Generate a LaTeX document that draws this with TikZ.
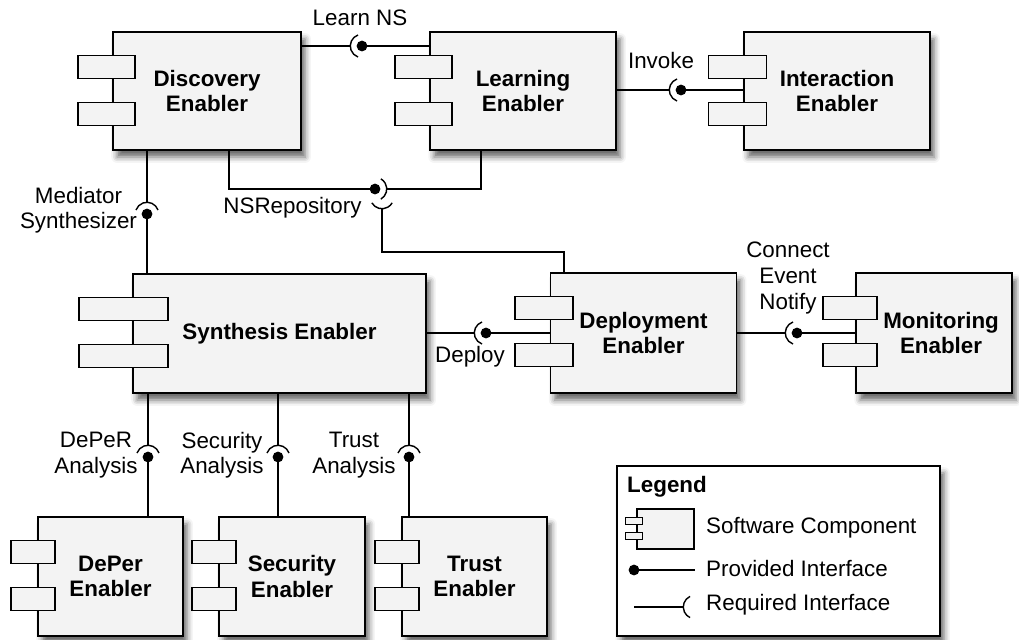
\documentclass[tikz,border=0pt]{standalone}
\usepackage{fontspec}
\setmainfont{Liberation Sans}
\usepackage{tikz}
\usetikzlibrary{positioning,calc,shadows.blur}
\definecolor{compfill}{HTML}{F3F3F3}
\newcommand{\px}{0.03cm}
\newcommand{\provball}[1]{\fill (#1) circle[radius=4.6pt];}
\newcommand{\reqcup}[3]{\draw[wire] ([shift={(#2:10pt)}]#1) arc[start angle=#2,end angle=#3,radius=10pt];}

\begin{document}
\begin{tikzpicture}[x=\px,y=-\px,
every node/.style={font=\fontsize{19.1}{21.8}\selectfont},
shade/.style={blur shadow={shadow xshift=3.5pt,shadow yshift=-6pt,shadow blur radius=5pt,shadow opacity=60}},
comp/.style={draw,fill=compfill,line width=1.2pt,align=center,minimum height=118*\px,
  font=\fontsize{19.1}{21.8}\selectfont\bfseries,shade},
tab/.style={draw,fill=compfill,line width=1.2pt},
wire/.style={line width=1.2pt},
lbl/.style={align=center,inner sep=0pt}]
\useasboundingbox (0,0) rectangle (1019,639);

\node (disc) [comp,minimum width=188*\px] at (207,91) {Discovery\\Enabler};
\node (learn) [comp,minimum width=186*\px] at (523,91) {Learning\\Enabler};
\node (inter) [comp,minimum width=186*\px] at (837,91) {Interaction\\Enabler};
\node (synth) [comp,minimum width=293*\px,minimum height=119*\px] at (279.5,333.5) {Synthesis Enabler};
\node (deploy) [comp,minimum width=186*\px,minimum height=120*\px] at (643.5,333) {Deployment\\Enabler};
\node (monit) [comp,minimum width=156*\px,minimum height=120*\px] at (934,333) {\hspace*{12pt}Monitoring\\\hspace*{12pt}Enabler};
\node (deper) [comp,minimum width=145*\px,minimum height=119*\px] at (110.5,576.5) {DePer\\Enabler};
\node (secur) [comp,minimum width=146*\px,minimum height=119*\px] at (292,576.5) {Security\\Enabler};
\node (trust) [comp,minimum width=145*\px,minimum height=119*\px] at (474.5,576.5) {Trust\\Enabler};

% component tabs
\foreach \n/\w in {disc/57,learn/57,inter/58,synth/89,deploy/58,monit/54,deper/44,secur/44,trust/44}
  \foreach \dy in {24,71}
    \draw[tab] ($(\n.north west)+(-0.6*\w,\dy)$) rectangle ++(\w,23);

% Learn NS
\coordinate (lnsB) at (362,46);
\draw[wire] (lnsB -| disc.east) -- ([xshift=-10pt]lnsB);
\reqcup{lnsB}{110}{250}
\draw[wire] (lnsB) -- (lnsB -| learn.west);
\provball{lnsB}
\node (lnsL) [lbl] at (360,18) {Learn NS};

% Invoke
\coordinate (invB) at (681,90);
\draw[wire] (invB -| learn.east) -- ([xshift=-10pt]invB);
\reqcup{invB}{110}{250}
\draw[wire] (invB) -- (invB -| inter.west);
\provball{invB}
\node (invL) [lbl] at (661,60) {Invoke};

% Mediator Synthesizer
\coordinate (medB) at (147,214);
\draw[wire] (medB |- disc.south) -- ([yshift=10pt]medB);
\reqcup{medB}{20}{160}
\draw[wire] (medB) -- (medB |- synth.north);
\provball{medB}
\node (medL) [lbl] at (78.5,210) {Mediator\\Synthesizer};

% NSRepository
\coordinate (nsrB) at (375,189);
\coordinate (nsrK) at (229,189);
\coordinate (nsrL) at (481,189);
\coordinate (nsrC) at (382,197);
\coordinate (nsrD) at (564,252);
\draw[wire] (nsrK |- disc.south) -- (nsrK) -- (nsrB);
\provball{nsrB}
\reqcup{nsrB}{-60}{60}
\draw[wire] ([xshift=10pt]nsrB) -- (nsrL) -- (nsrL |- learn.south);
\reqcup{nsrC}{210}{330}
\draw[wire] ([yshift=-10pt]nsrC) |- (nsrD) -- (nsrD |- deploy.north);
\node (nsrT) [lbl] at (292.5,208) {NSRepository};

% Deploy
\coordinate (depB) at (486,333);
\draw[wire] (depB -| synth.east) -- ([xshift=-10pt]depB);
\reqcup{depB}{110}{250}
\draw[wire] (depB) -- (depB -| deploy.west);
\provball{depB}
\node (depL) [lbl] at (470,357) {Deploy};

% Connect Event Notify
\coordinate (cenB) at (797,333);
\draw[wire] (cenB -| deploy.east) -- ([xshift=-10pt]cenB);
\reqcup{cenB}{110}{250}
\draw[wire] (cenB) -- (cenB -| monit.west);
\provball{cenB}
\node (cenL) [lbl] at (788,278) {Connect\\Event\\Notify};

% analysis interfaces
\foreach \n/\x in {deper/148,secur/278,trust/409}{
  \coordinate (\n-b) at (\x,457);
  \draw[wire] (\n-b |- synth.south) -- ([yshift=10pt]\n-b);
  \reqcup{\n-b}{20}{160}
  \draw[wire] (\n-b) -- (\n-b |- \n.north);
  \provball{\n-b}
}
\node (deperL) [lbl] at (96,455) {DePeR\\Analysis};
\node (securL) [lbl] at (222,455) {Security\\Analysis};
\node (trustL) [lbl] at (354,455) {Trust\\Analysis};

% legend
\node (legend) [draw,fill=white,line width=1.2pt,minimum width=323*\px,minimum height=170*\px,shade] at (778.5,551) {};
\node (legT) [anchor=west,inner sep=0pt,font=\fontsize{19.1}{21.8}\selectfont\bfseries] at (627,487) {Legend};
\node (legC) [draw,fill=compfill,line width=1pt,minimum width=57*\px,minimum height=40*\px,inner sep=0pt] at (665.5,529) {};
\foreach \dy in {9,24}
  \draw[tab,line width=1pt] ($(legC.north west)+(-11,\dy)$) rectangle ++(17,7);
\coordinate (legP) at (634,570);
\draw[wire] (legP) -- (legP -| legC.east);
\provball{legP}
\coordinate (legR) at (695,607);
\draw[wire] (legR -| legP) -- ([xshift=-10pt]legR);
\reqcup{legR}{115}{245}
\node (legSC) [anchor=west,inner sep=0pt] at (706,528) {Software Component};
\node (legPI) [anchor=west,inner sep=0pt] at (706,568) {Provided Interface};
\node (legRI) [anchor=west,inner sep=0pt] at (706,605) {Required Interface};
\end{tikzpicture}
\end{document}
